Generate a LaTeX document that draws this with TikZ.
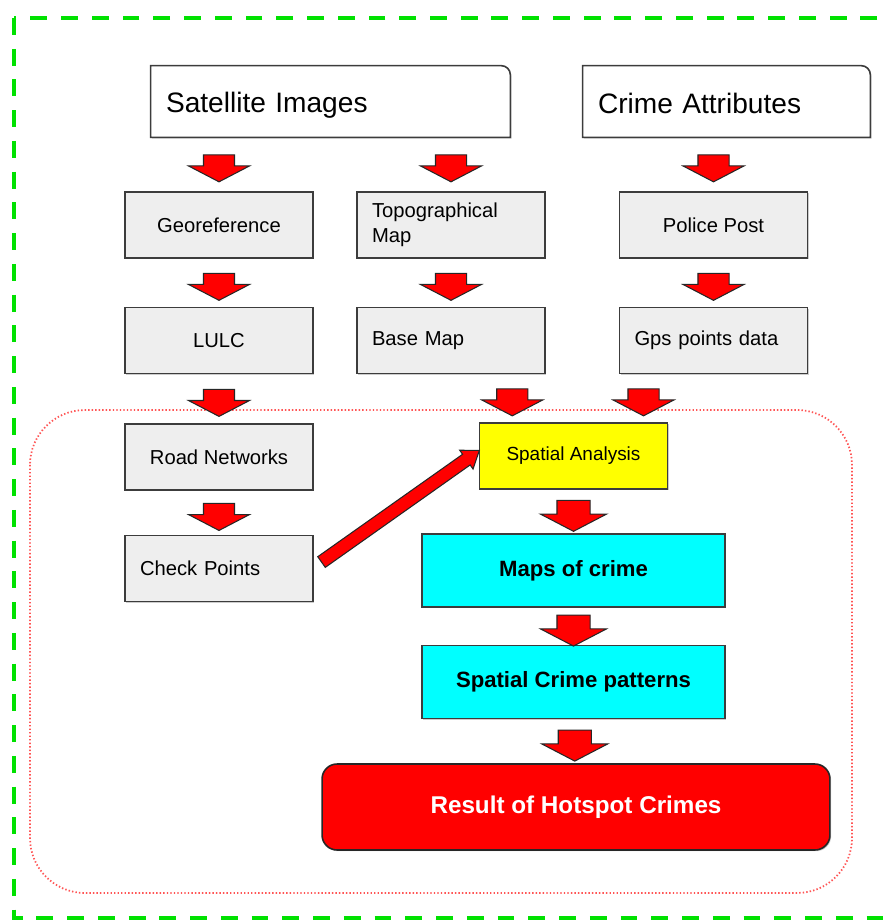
\documentclass[tikz,border=0pt]{standalone}
\usepackage{fontspec}
\setmainfont{Liberation Sans}
\usetikzlibrary{positioning, calc, shapes.arrows, shadows}

\definecolor{boxgray}{RGB}{238,238,238}
\definecolor{frameline}{RGB}{60,60,60}
\definecolor{dashgreen}{RGB}{0,225,0}
\definecolor{dotred}{RGB}{255,85,85}
\definecolor{mapcyan}{RGB}{0,255,255}
\definecolor{anayellow}{RGB}{255,255,0}
\definecolor{hotred}{RGB}{255,0,0}

\begin{document}
\begin{tikzpicture}[
		x=0.02cm, y=-0.02cm,
		% Style for the two source boxes on top
		sourcebox/.style={
			minimum height=1.42cm, text width=6.58cm, inner xsep=0.3cm,
			align=left, font=\fontsize{16}{19}\selectfont
		},
		sourceline/.style={draw=frameline, line width=0.9pt, fill=white,
			drop shadow={shadow xshift=0.7pt, shadow yshift=-0.7pt, fill=black!40}},
		% Style for the grey process boxes
		procbox/.style={
			draw=frameline, line width=0.9pt, fill=boxgray,
			minimum width=3.76cm, minimum height=1.32cm,
			font=\fontsize{11.5}{14}\selectfont,
			drop shadow={shadow xshift=0.7pt, shadow yshift=-0.7pt, fill=black!40}
		},
		procleft/.style={procbox, text width=3.16cm, inner xsep=0.3cm, align=left},
		% Style for the analysis and result boxes
		resultbox/.style={
			draw=frameline, line width=0.9pt, fill=mapcyan,
			minimum width=6.06cm, minimum height=1.46cm,
			font=\fontsize{12.6}{15}\selectfont\bfseries,
			drop shadow={shadow xshift=0.7pt, shadow yshift=-0.7pt, fill=black!40}
		},
		% Block arrows
		downarrow/.style={
			single arrow, rotate=-90, draw=black!85, fill=hotred,
			line width=0.6pt, inner xsep=0pt, inner ysep=0.3cm,
			minimum height=0.54cm, single arrow head extend=0.3cm,
			single arrow tip angle=125
		},
		bigdownarrow/.style={downarrow, minimum height=0.62cm, inner ysep=0.32cm,
			single arrow head extend=0.33cm},
		fatarrow/.style={
			single arrow, draw=black!85, fill=hotred, line width=0.6pt,
			inner xsep=0pt, inner ysep=0.12cm, single arrow head extend=0.1cm,
			single arrow tip angle=72
		}
		]
		
		\useasboundingbox (0,0) rectangle (886,920);
		
		% --- FRAMES ---
		\draw[dashgreen, line width=2pt, dash pattern=on 9.6pt off 7.9pt]
			(14,18) rectangle (960,918);
		\draw[dotred, line width=1pt, dash pattern=on 0.8pt off 1.2pt,
			rounded corners=1.1cm] (30,410) rectangle (852,893);
		
		% --- 1. SOURCES ---
		\node[sourcebox] (sat) at (330.5,101.5) {};
		\node[sourcebox, text width=5.14cm] (att) at (726.5,101.5) {};
		\draw[sourceline] (sat.south west) -- (sat.north west)
			-- ([xshift=-0.18cm]sat.north east) arc[start angle=90, end angle=0, radius=0.18cm]
			-- (sat.south east) -- cycle;
		\draw[sourceline] (att.south west) -- (att.north west)
			-- ([xshift=-0.18cm]att.north east) arc[start angle=90, end angle=0, radius=0.18cm]
			-- (att.south east) -- cycle;
		\node[sourcebox, yshift=-0.08cm] at (sat) {Satellite Images};
		\node[sourcebox, text width=5.14cm, yshift=-0.04cm] at (att) {Crime Attributes};
		
		% --- 2. PREPARATION ---
		\node[procbox] (geo) at (219,225) {Georeference};
		\node[procleft] (topo) at (451,225) {Topographical\\Map};
		\node[procbox] (post) at (713.5,225) {Police Post};
		
		\node[procbox, below=0.96cm of geo] (lulc) {LULC};
		\node[procleft, below=0.96cm of topo] (base) {Base Map};
		\node[procleft, below=0.96cm of post] (gps) {Gps points data};
		
		\node[procbox, below=0.98cm of lulc] (road) {Road Networks};
		\node[procleft, below=0.88cm of road] (chk) {Check Points};
		
		% --- 3. ANALYSIS ---
		\node[procbox, fill=anayellow, font=\fontsize{10.8}{13}\selectfont] (ana) at (573.5,456) {Spatial Analysis};
		\node[resultbox] (maps) at (573.5,570.5) {Maps of crime};
		\node[resultbox, below=0.74cm of maps] (pat) {Spatial Crime patterns};
		\node[draw=black!85, line width=0.9pt, fill=hotred, rounded corners=0.3cm,
			minimum width=10.16cm, minimum height=1.72cm, text=white,
			font=\fontsize{13.8}{16}\selectfont\bfseries,
			drop shadow={shadow xshift=0.7pt, shadow yshift=-0.7pt, fill=black!40}]
			(res) at (576,807) {Result of Hotspot Crimes};
		
		% --- ARROWS & FLOW ---
		\node[downarrow] (a1) at ($(sat.south -| geo)!0.5!(geo.north)$) {};
		\node[downarrow] (a2) at ($(sat.south -| topo)!0.5!(topo.north)$) {};
		\node[downarrow] (a3) at ($(att.south -| post)!0.5!(post.north)$) {};
		\node[downarrow] (a4) at ($(geo.south)!0.5!(lulc.north)$) {};
		\node[downarrow] (a5) at ($(topo.south)!0.5!(base.north)$) {};
		\node[downarrow] (a6) at ($(post.south)!0.5!(gps.north)$) {};
		\node[downarrow] (a7) at ($(lulc.south)!0.5!(road.north)$) {};
		\node[downarrow] (a8) at ($(base.south east)!0.5!(ana.north west)$) {};
		\node[downarrow] (a9) at ($(gps.south west)!0.5!(ana.north east)$) {};
		\node[downarrow] (a10) at ($(road.south)!0.5!(chk.north)$) {};
		\node[bigdownarrow] (a11) at ($(ana.south)!0.5!(maps.north)$) {};
		\node[bigdownarrow] (a12) at ($(maps.south)!0.5!(pat.north)$) {};
		\node[bigdownarrow] (a13) at ($(pat.south)!0.5!(res.north)$) {};
		
		% Check points feed the analysis
		\coordinate (from) at ($(chk.east)+(4,-4)$);
		\coordinate (to) at ($(ana.west)+(-3,-3)$);
		\path let \p1=($(to)-(from)$), \n1={atan2(\y1,\x1)}, \n2={veclen(\x1,\y1)} in
			node[fatarrow, rotate=\n1, minimum height=\n2] (diag) at ($(from)!0.5!(to)$) {};
		
	\end{tikzpicture}
\end{document}
